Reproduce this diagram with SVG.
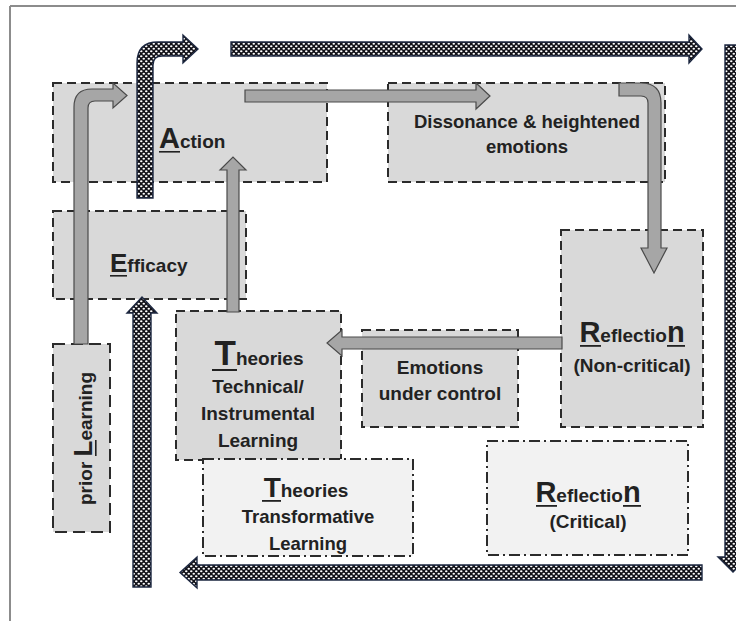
<svg xmlns="http://www.w3.org/2000/svg" width="736" height="621" viewBox="0 0 736 621">
<defs>
<pattern id="dots" width="5" height="5" patternUnits="userSpaceOnUse">
<rect width="5" height="5" fill="#111118"/>
<ellipse cx="1.25" cy="1.25" rx="1.25" ry="1" fill="#ffffff"/>
<ellipse cx="3.75" cy="3.75" rx="1.25" ry="1" fill="#ffffff"/>
</pattern>
<style>
.frame{stroke:#8c8c8c;stroke-width:2;fill:none}
.box{fill:#d9d9d9;stroke:#2b2b2b;stroke-width:2;stroke-dasharray:9 5}
.boxl{fill:#f2f2f2;stroke:#2b2b2b;stroke-width:2;stroke-dasharray:11 4 2 4}
.dot{fill:url(#dots);stroke:#1c2740;stroke-width:1.4}
.gray{fill:#a6a6a6;stroke:#4a4a4a;stroke-width:1.2}
text{font-family:"Liberation Sans",Arial,sans-serif;font-weight:bold;fill:#222222}
.t{font-size:19px}
.ul{fill:#222222}
</style>
</defs>
<rect width="736" height="621" fill="#ffffff"/>
<g id="frame">
<line class="frame" x1="10" y1="6" x2="736" y2="6"/>
<line class="frame" x1="10" y1="6" x2="10" y2="621"/>
</g>

<g id="action">
<rect class="box" x="53" y="83" width="274" height="99"/>
<text x="159" y="148"><tspan font-size="29">A</tspan><tspan font-size="19">ction</tspan></text>
<rect class="ul" x="159" y="151" width="21" height="1.6"/>
</g>
<g id="efficacy">
<rect class="box" x="53" y="211" width="193" height="88"/>
<text x="110" y="272"><tspan font-size="26">E</tspan><tspan font-size="19">fficacy</tspan></text>
<rect class="ul" x="110" y="275" width="17" height="1.6"/>
</g>
<g id="dissonance">
<rect class="box" x="388" y="83" width="277" height="99"/>
<text x="527" y="128" text-anchor="middle" font-size="18.5">Dissonance &amp; heightened</text>
<text x="527" y="153" text-anchor="middle" font-size="18.5">emotions</text>
</g>
<g id="reflection-noncritical">
<rect class="box" x="561" y="230" width="142" height="197"/>
<text x="632" y="342" text-anchor="middle"><tspan font-size="29">R</tspan><tspan font-size="19">eflectio</tspan><tspan font-size="29">n</tspan></text>
<rect class="ul" x="580" y="345" width="21" height="1.8"/>
<rect class="ul" x="667" y="345" width="18" height="1.8"/>
<text class="t" x="632" y="372" text-anchor="middle">(Non-critical)</text>
</g>
<g id="emotions">
<rect class="box" x="362" y="330" width="156" height="97"/>
<text class="t" x="440" y="374" text-anchor="middle">Emotions</text>
<text class="t" x="440" y="400" text-anchor="middle">under control</text>
</g>
<g id="theories-technical">
<rect class="box" x="176" y="311" width="165" height="149"/>
<text x="259" y="365" text-anchor="middle"><tspan font-size="35">T</tspan><tspan font-size="19">heories</tspan></text>
<rect class="ul" x="212" y="369" width="25" height="2"/>
<text class="t" x="258" y="393" text-anchor="middle">Technical/</text>
<text class="t" x="258" y="420" text-anchor="middle">Instrumental</text>
<text class="t" x="258" y="447" text-anchor="middle">Learning</text>
</g>
<g id="prior-learning">
<rect class="box" x="53" y="344" width="57" height="188" style="stroke-dasharray:12 6"/>
<g transform="translate(92,505) rotate(-90)">
<text x="0" y="0"><tspan font-size="19">prior </tspan><tspan font-size="26">L</tspan><tspan font-size="19">earning</tspan></text>
<rect class="ul" x="49" y="3" width="16" height="1.6"/>
</g>
</g>
<g id="theories-transformative">
<rect class="boxl" x="203" y="459" width="210" height="97"/>
<text x="306" y="497" text-anchor="middle"><tspan font-size="28">T</tspan><tspan font-size="19">heories</tspan></text>
<rect class="ul" x="262" y="500" width="19" height="1.8"/>
<text x="308" y="523" text-anchor="middle" font-size="18.5">Transformative</text>
<text x="308" y="550" text-anchor="middle" font-size="18.5">Learning</text>
</g>
<g id="reflection-critical">
<rect class="boxl" x="487" y="441" width="201" height="114"/>
<text x="588" y="502" text-anchor="middle"><tspan font-size="29">R</tspan><tspan font-size="19">eflectio</tspan><tspan font-size="29">n</tspan></text>
<rect class="ul" x="536" y="505" width="21" height="1.8"/>
<rect class="ul" x="623" y="505" width="18" height="1.8"/>
<text class="t" x="588" y="528" text-anchor="middle">(Critical)</text>
</g>

<g id="connectors">
<path class="dot" d="M137,198 L137,63 Q137,42 158,42 L183,42 L183,35 L198,49 L183,63 L183,56 L162,56 Q153,56 153,65 L153,198 Z"/>
<path class="dot" d="M231,42 L689,42 L689,35 L702,49 L689,63 L689,56 L231,56 Z"/>
<path class="dot" d="M725,45 L741,45 L741,557 L748,557 L733,572 L718,557 L725,557 Z"/>
<path class="dot" d="M702,565 L197,565 L197,557 L180,572.5 L197,588 L197,580 L702,580 Z"/>
<path class="dot" d="M133,587 L133,313 L127,313 L142,297 L157,313 L151,313 L151,587 Z"/>

<path class="gray" d="M74,344 L74,107 Q74,89 92,89 L113,89 L113,83 L127,95.5 L113,108 L113,101 L95,101 Q88,101 88,108 L88,344 Z"/>
<path class="gray" d="M245,90 L476,90 L476,83 L490,96 L476,109 L476,102 L245,102 Z"/>
<path class="gray" d="M619,83 L641,83 Q661,83 661,103 L661,248 L667,248 L654,273 L641,248 L648,248 L648,103 Q648,96 641,96 L619,96 Z"/>
<path class="gray" d="M227,312 L227,170 L220,170 L233,157 L246,170 L239,170 L239,312 Z"/>
<path class="gray" d="M562,337 L342,337 L342,330 L327,343 L342,356 L342,349 L562,349 Z"/>
</g>
</svg>
